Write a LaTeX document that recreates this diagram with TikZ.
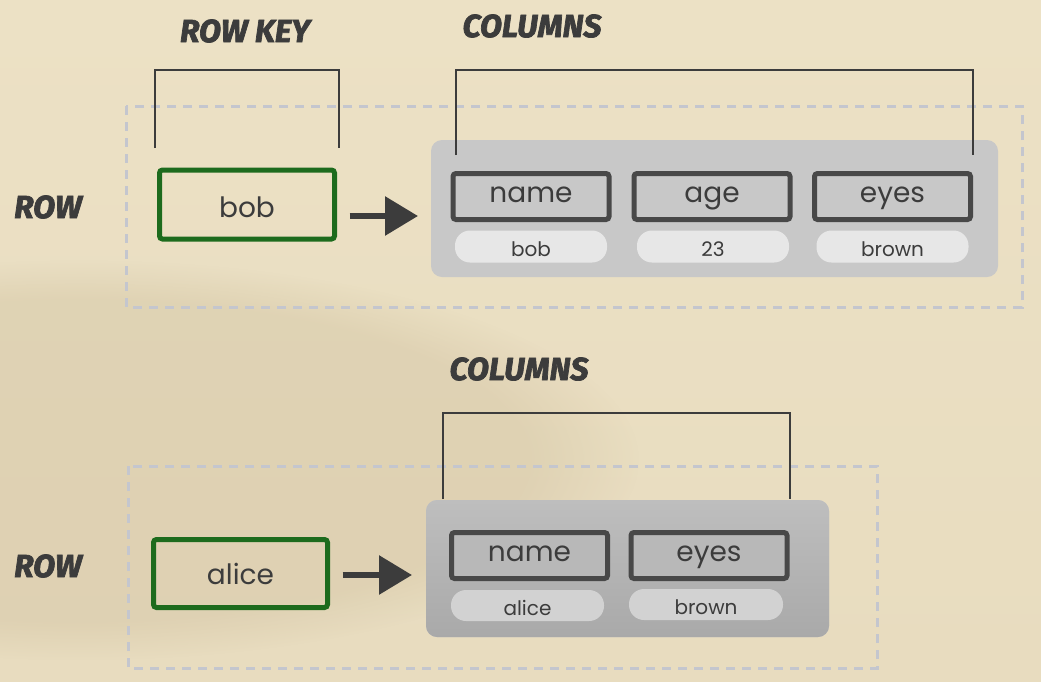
\documentclass[tikz,border=0pt]{standalone}
\usepackage{fontspec}
\setmainfont{Poppins}
\newfontfamily\headfont{Fira Sans}[BoldItalicFeatures={FakeBold=2.2}]
\usetikzlibrary{arrows.meta,calc,fadings}
\definecolor{paper}{HTML}{E8DCBF}
\definecolor{papertop}{HTML}{ECE1C5}
\definecolor{paperdark}{HTML}{CDBD9B}
\definecolor{ink}{HTML}{3C3C3C}
\definecolor{keygreen}{HTML}{1D6B1D}
\definecolor{dashgray}{HTML}{C4C6CE}
\definecolor{contgray}{HTML}{C8C8C8}
\definecolor{contgrayB}{HTML}{BCBCBC}
\definecolor{pillgray}{HTML}{E7E7E7}
\definecolor{pillgrayB}{HTML}{D2D2D2}
\definecolor{boxedge}{HTML}{484848}
\tikzset{
  heading/.style={text=ink,font=\headfont\bfseries\itshape\fontsize{32}{32}\selectfont,inner sep=0pt},
  keybox/.style={draw=keygreen,line width=5pt,rounded corners=3pt,minimum width=175pt,minimum height=69pt,inner sep=0pt,outer sep=0pt,text=ink,font=\fontsize{28}{28}\selectfont,text height=25pt,text depth=0pt},
  container/.style={fill=contgray,rounded corners=11pt,minimum height=137pt,inner sep=0pt,outer sep=0pt},
  colbox/.style={draw=boxedge,line width=5pt,rounded corners=3pt,minimum width=156pt,minimum height=46pt,inner sep=0pt,outer sep=0pt,text=ink,font=\fontsize{28}{28}\selectfont,text height=11pt,text depth=0pt},
  pill/.style={fill=pillgray,rounded corners=15pt,minimum width=152pt,minimum height=32pt,inner sep=0pt,outer sep=0pt,text=ink,font=\fontsize{20}{20}\selectfont,text height=19pt,text depth=0pt},
  rowframe/.style={draw=dashgray,line width=3pt,dash pattern=on 9pt off 7pt},
  bracket/.style={draw=ink,line width=2pt},
  bigarrow/.style={draw=ink,line width=6pt,-{Triangle[length=33pt,width=38pt]}},
}
\begin{document}
\begin{tikzpicture}[x=1pt,y=-1pt]
\useasboundingbox (0,0) rectangle (1041,681);
\shade[top color=papertop, bottom color=paper] (0,0) rectangle (1041,681);
\fill[paperdark,opacity=0.35,path fading=circle with fuzzy edge 20 percent] (80,460) ellipse (560pt and 200pt);

% ---- top row ----
\node[heading] (rowkeylbl) at (245,31) {ROW KEY};
\node[heading] (cols1lbl) at (532,26) {COLUMNS};
\node[heading] (row1lbl) at (48,207) {ROW};

\draw[rowframe] (126,106) rectangle (1022,307);

\node[container,minimum width=567pt] (cont1) at (714.5,208.5) {};
\node[colbox,fill=contgray] (name1) at (531,196.5) {name};
\node[colbox,fill=contgray] (age1) at (712,196.5) {age};
\node[colbox,fill=contgray] (eyes1) at (892.5,196.5) {eyes};
\node[pill] (v1a) at (531,246.5) {bob};
\node[pill] (v1b) at (713,246.5) {23};
\node[pill] (v1c) at (892.5,246.5) {brown};

\node[keybox] (bob) at (247,204.5) {bob};

\coordinate (kb1) at (155,148);
\coordinate (kb2) at (339,148);
\draw[bracket] (kb1) -- ($(kb1)+(0,-78)$) -| (kb2);
\coordinate (cb1) at (456,155);
\coordinate (cb2) at (973,155);
\draw[bracket] (cb1) -- ($(cb1)+(0,-85)$) -| (cb2);

\draw[bigarrow] ([xshift=15pt,yshift=-11.5pt]bob.east) -- ([xshift=-13pt,yshift=-11.5pt]bob.east -| cont1.west);

% ---- bottom row ----
\node[heading] (cols2lbl) at (519,369) {COLUMNS};
\node[heading] (row2lbl) at (48,566) {ROW};

\draw[rowframe] (128,466) rectangle (877,668);

\node[container,minimum width=403pt,top color=contgray!95!black,bottom color=contgrayB!90!black] (cont2) at (627.5,568.5) {};
\node[colbox,fill=contgray!92!black,minimum width=156pt] (name2) at (529.5,555.5) {name};
\node[colbox,fill=contgray!92!black,minimum width=156pt] (eyes2) at (709,555.5) {eyes};
\node[pill,fill=pillgrayB,minimum width=153pt,minimum height=31pt] (v2a) at (527.5,605.5) {alice};
\node[pill,fill=pillgrayB,minimum width=154pt,minimum height=31pt] (v2b) at (706,604.5) {brown};

\node[keybox,minimum width=174pt,minimum height=68pt,text height=21pt] (alice) at (240.5,573.5) {alice};

\coordinate (cb3) at (443,499);
\coordinate (cb4) at (790,499);
\draw[bracket] (cb3) -- ($(cb3)+(0,-86)$) -| (cb4);

\draw[bigarrow] ([xshift=15pt,yshift=-1.5pt]alice.east) -- ([xshift=-14pt,yshift=-1.5pt]alice.east -| cont2.west);
\end{tikzpicture}
\end{document}
